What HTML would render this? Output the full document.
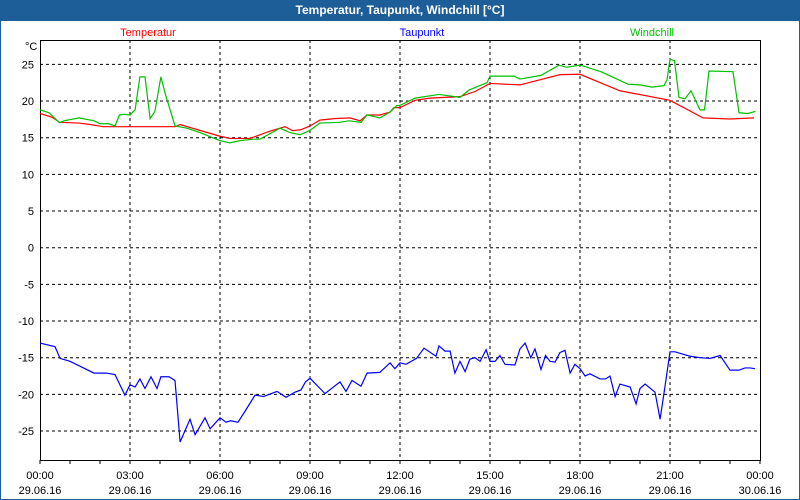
<!DOCTYPE html>
<html><head><meta charset="utf-8"><style>
body{margin:0;width:800px;height:500px;overflow:hidden;background:#fff;font-family:"Liberation Sans",sans-serif}
#frame{position:absolute;left:0;top:0;width:798px;height:498px;border:1px solid #1e5e98;background:#fff}
#title{position:absolute;left:0;top:0;width:800px;height:21px;background:#1e5e98;color:#fff;font-weight:bold;font-size:12px;text-align:center;line-height:20px}
svg{position:absolute;left:0;top:0}
</style></head><body>
<div id="frame"></div>
<div id="title">Temperatur, Taupunkt, Windchill [°C]</div>
<svg id="chart" width="800" height="500"></svg>
<script>
const yTicks=[25,20,15,10,5,0,-5,-10,-15,-20,-25];
const xTickHours=[0,3,6,9,12,15,18,21,24];
const xTimeLabels=["00:00","03:00","06:00","09:00","12:00","15:00","18:00","21:00","00:00"];
const xDateLabels=["29.06.16","29.06.16","29.06.16","29.06.16","29.06.16","29.06.16","29.06.16","29.06.16","30.06.16"];
const tempHours=[0,0.4,0.65,1.3,1.67,2.1,4.5,4.67,5.33,6,6.33,7,7.33,7.67,8.17,8.43,8.7,9,9.33,9.8,10.33,10.67,10.9,11.33,11.67,11.8,12,12.5,13,14,14.5,15,16,17.33,18,19.33,21,22.1,23,23.8];
const tempVals=[18.3,17.8,17.1,17.0,16.8,16.5,16.5,16.8,16.0,15.2,14.9,14.9,15.4,15.9,16.5,15.95,16.1,16.6,17.4,17.6,17.7,17.3,18.1,18.1,18.5,19.1,19.1,20.1,20.4,20.6,21.3,22.4,22.2,23.6,23.65,21.4,20.1,17.7,17.55,17.7];
const chillHours=[0,0.3,0.65,0.8,1.3,1.8,2.0,2.3,2.5,2.65,2.8,3.0,3.17,3.33,3.5,3.67,3.83,4.03,4.17,4.5,4.9,5.33,6,6.33,6.67,7.1,7.33,8,8.33,8.67,9,9.33,10,10.3,10.7,10.9,11.33,11.67,11.9,12,12.5,13.3,14,14.3,14.9,15,15.8,16,16.7,17.3,17.55,18,18.7,19.6,20,20.4,20.8,20.9,21,21.15,21.3,21.5,21.7,22,22.15,22.3,23.1,23.3,23.6,23.85];
const chillVals=[18.8,18.4,17.05,17.3,17.7,17.3,16.9,16.9,16.6,18.1,18.2,18.1,18.8,23.3,23.3,17.6,18.6,23.3,21.05,16.6,16.3,15.7,14.6,14.3,14.6,14.8,14.8,16.3,15.7,15.4,16.0,17.0,17.1,17.3,17.1,18.1,17.7,18.5,19.4,19.4,20.4,20.9,20.5,21.5,22.5,23.4,23.4,23.0,23.5,24.9,24.6,24.9,24.0,22.3,22.2,21.9,22.1,22.9,25.7,25.5,20.5,20.3,21.4,18.8,18.8,24.1,24.0,18.4,18.3,18.6];
const dewHours=[0,0.5,0.67,1,1.8,2.2,2.5,2.83,3,3.17,3.33,3.5,3.7,3.9,4.03,4.3,4.5,4.67,5,5.17,5.5,5.67,6,6.2,6.35,6.6,6.85,7.17,7.45,7.9,8.2,8.5,8.7,8.85,9.0,9.5,10,10.2,10.4,10.7,10.9,11.33,11.67,11.83,12,12.2,12.55,12.8,13.2,13.3,13.5,13.67,13.83,14,14.17,14.33,14.5,14.67,14.87,15,15.17,15.33,15.5,15.83,16,16.17,16.36,16.5,16.7,16.85,17,17.17,17.33,17.5,17.67,17.83,18,18.17,18.33,18.67,18.85,19,19.17,19.33,19.67,19.87,20,20.17,20.5,20.67,20.83,21,21.17,21.33,21.67,22,22.33,22.67,23,23.3,23.5,23.67,23.83];
const dewVals=[-13.0,-13.5,-15.1,-15.5,-17.1,-17.1,-17.3,-20.1,-18.7,-19.0,-17.9,-19.2,-17.6,-19.2,-17.6,-17.6,-18.1,-26.5,-23.4,-25.5,-23.2,-24.7,-23.2,-23.8,-23.6,-23.8,-22.2,-20.1,-20.3,-19.6,-20.4,-19.7,-19.4,-18.3,-17.8,-19.9,-18.3,-19.6,-18.1,-18.9,-17.1,-17.0,-15.7,-16.5,-15.7,-15.9,-15.1,-13.7,-14.8,-13.4,-14.1,-14.1,-17.1,-15.5,-16.9,-15.2,-15.0,-15.5,-13.9,-15.5,-15.5,-14.7,-15.9,-16.0,-13.8,-13.0,-15.0,-13.8,-16.6,-14.7,-15.5,-15.6,-14.3,-14.0,-17.1,-15.9,-16.5,-17.5,-17.2,-17.9,-17.9,-17.5,-20.3,-18.6,-19.0,-21.3,-19.2,-18.6,-19.7,-23.4,-19.0,-14.2,-14.2,-14.4,-14.8,-15.0,-15.1,-14.7,-16.7,-16.7,-16.4,-16.4,-16.5];

const L=40,R=760,T=40,B=460;
const xs=h=>L+h*(R-L)/24;
const ys=v=>247.7-v*7.333;
const svg=document.getElementById('chart');
const NS='http://www.w3.org/2000/svg';
function mk(tag,attrs,parent){const e=document.createElementNS(NS,tag);for(const k in attrs)e.setAttribute(k,attrs[k]);(parent||svg).appendChild(e);return e;}
yTicks.forEach((v,i)=>{
  const g=mk('line',{x1:L,x2:R,y1:ys(v),y2:ys(v),stroke:'#000','stroke-dasharray':'3,3','stroke-width':1});
  
  
  const t=mk('text',{x:34,y:ys(v)+4,'text-anchor':'end','font-size':11,fill:'#000'});
  t.textContent=v;
  
  
});
xTickHours.forEach((h,i)=>{
  if(i>0&&i<xTickHours.length-1){
    const g=mk('line',{x1:xs(h),x2:xs(h),y1:T,y2:B,stroke:'#000','stroke-dasharray':'3,3','stroke-width':1});
    
    
  }
  const t1=mk('text',{x:xs(h),y:479,'text-anchor':'middle','font-size':11,fill:'#000'});
  t1.textContent=xTimeLabels[i];
  
  
  const t2=mk('text',{x:xs(h),y:494,'text-anchor':'middle','font-size':11,fill:'#000'});
  t2.textContent=xDateLabels[i];
  
  
});
for(let h=0;h<=24;h++){
  const tk=mk('line',{x1:xs(h),x2:xs(h),y1:B,y2:B+4,stroke:'#000'});
  
  
}
const box=mk('rect',{x:L+0.5,y:T+0.5,width:R-L,height:B-T,fill:'none',stroke:'#000'});


function series(hs,vs,color,name){
  const p=mk('polyline',{points:hs.map((h,i)=>xs(h)+','+ys(vs[i])).join(' '),fill:'none',stroke:color,'stroke-width':1.2});
  
  
}
series(tempHours,tempVals,'#ff0000','temperatur-line');
series(chillHours,chillVals,'#00c000','windchill-line');
series(dewHours,dewVals,'#0000ff','taupunkt-line');
const unit=mk('text',{x:25,y:50,'font-size':11,fill:'#000'});unit.textContent='°C';


[['Temperatur','#ff0000',148],['Taupunkt','#0000ff',422],['Windchill','#00c000',652]].forEach(d=>{
  const t=mk('text',{x:d[2],y:36,'text-anchor':'middle','font-size':11,fill:d[1]});t.textContent=d[0];
  
  
});
</script>
</body></html>
